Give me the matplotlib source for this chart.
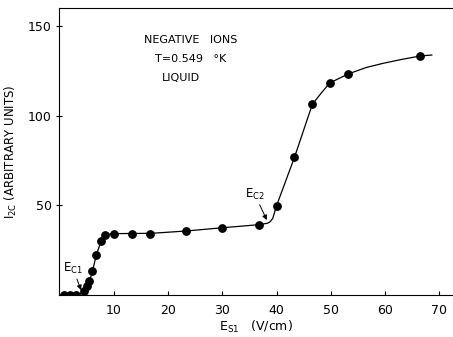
import matplotlib.pyplot as plt

# 测量点 (E_S1, I_2C)
e_pts = [0.85, 1.95, 3.0, 4.6, 5.1, 5.5, 6.1, 6.8, 7.7, 8.4, 10.1, 13.4, 16.7,
         23.4, 29.9, 36.8, 40.0, 43.3, 46.6, 49.8, 53.2, 66.4]
i_pts = [0.0, 0.0, 0.0, 2.1, 4.7, 7.5, 13.3, 22.0, 30.0, 33.0, 33.6, 33.6, 33.6,
         35.5, 37.3, 39.1, 49.6, 76.6, 106.3, 118.2, 123.2, 133.2]

# 手绘拟合曲线的节点
e_fit = [0.3, 3.5, 4.6, 5.5, 6.1, 6.8, 7.7, 8.4, 9.5, 17.0, 23.4, 30.0, 36.7,
         38.3, 38.8, 39.3, 40.0, 42.2, 43.3, 46.6, 48.2, 49.8, 53.2, 56.5,
         59.7, 63.0, 66.4, 68.6]
i_fit = [0.0, 0.0, 1.5, 7.0, 13.0, 22.0, 30.0, 33.0, 34.0, 34.2, 35.5, 37.3,
         39.0, 39.8, 40.6, 42.5, 49.6, 67.6, 76.6, 106.3, 112.4, 118.2, 123.2,
         126.8, 129.2, 131.3, 133.2, 133.8]

xticks = [10, 20, 30, 40, 50, 60, 70]
yticks = [50, 100, 150]

fig = plt.figure(figsize=(4.53, 3.37), dpi=100)
ax = fig.add_axes([0.131, 0.126, 0.869, 0.850])

ax.plot(e_fit, i_fit, color='black', lw=0.9)
ax.plot(e_pts, i_pts, 'o', color='black', ms=5.3)

ax.set_xlim(0, 72.5)
ax.set_ylim(0, 160)
ax.set_xticks(xticks)
ax.set_yticks(yticks)
ax.tick_params(axis='x', direction='in', length=3, labelsize=9, pad=7)
ax.tick_params(axis='y', direction='inout', length=4, labelsize=9)
ax.spines['right'].set_visible(False)

ax.set_xlabel(r'E$_{\mathregular{S1}}$   (V/cm)', fontsize=9, labelpad=1)
ax.set_ylabel(r'I$_{\mathregular{2C}}$ (ARBITRARY UNITS)', fontsize=8.5, labelpad=6)

# 文本说明
ax.text(0.215, 0.878, 'NEGATIVE   IONS', transform=ax.transAxes, fontsize=8)
ax.text(0.243, 0.812, 'T=0.549   °K', transform=ax.transAxes, fontsize=8)
ax.text(0.261, 0.745, 'LIQUID', transform=ax.transAxes, fontsize=8)

# E_C1 与 E_C2 标注
ax.annotate(r'E$_{\mathregular{C1}}$', xy=(4.0, 2.5), xytext=(0.7, 12.5),
            fontsize=8.5,
            arrowprops=dict(arrowstyle='-|>', color='black', lw=0.7,
                            mutation_scale=7, shrinkA=0, shrinkB=0))
ax.annotate(r'E$_{\mathregular{C2}}$', xy=(38.2, 41.6), xytext=(34.2, 54.0),
            fontsize=8.5,
            arrowprops=dict(arrowstyle='-|>', color='black', lw=0.7,
                            mutation_scale=7, shrinkA=0, shrinkB=0))

fig.savefig('out.png', dpi=100)
